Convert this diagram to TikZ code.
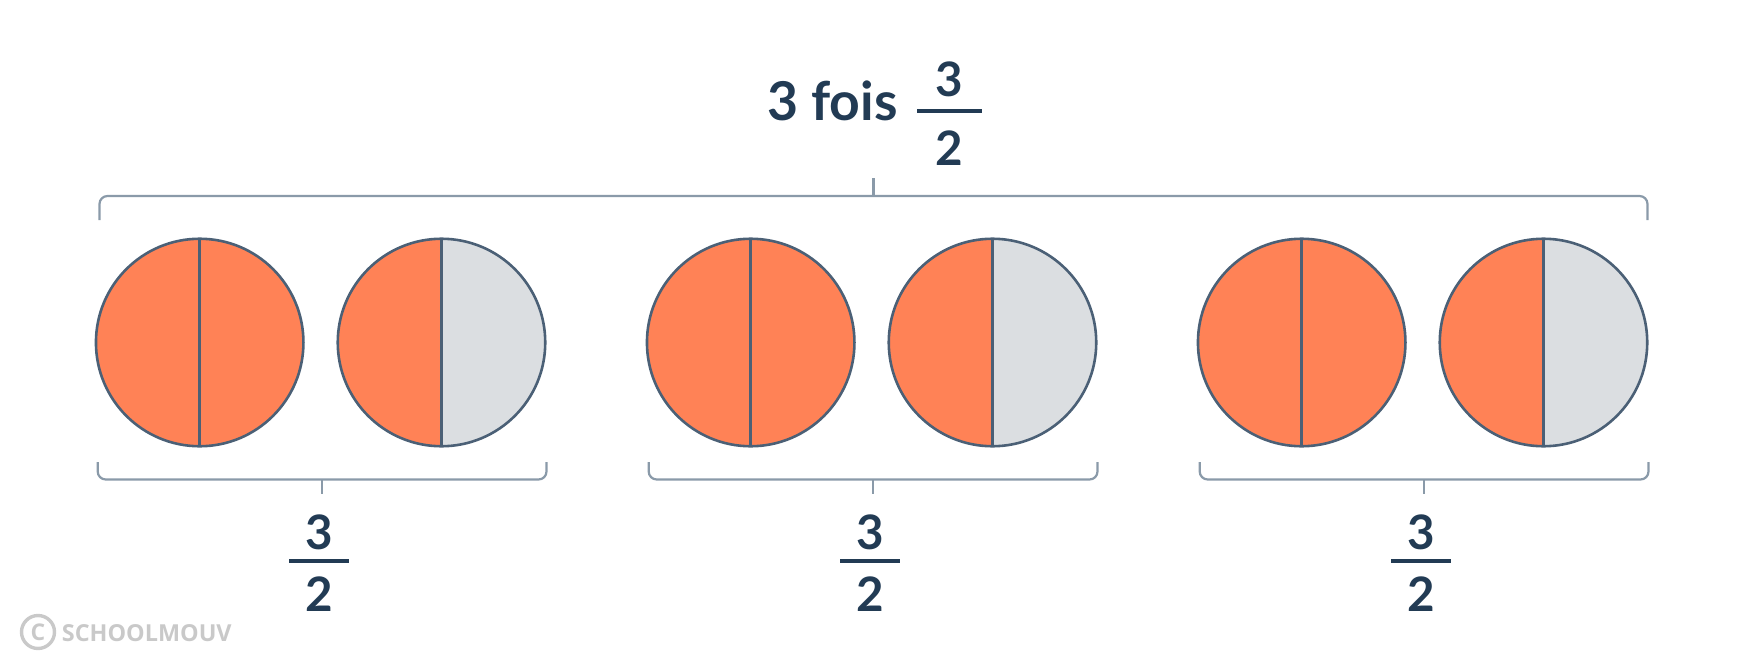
\documentclass[tikz,border=0pt]{standalone}
\usepackage{fontspec}
\setmainfont{Lato}
\newfontfamily\markfont{Open Sans}
\usepackage{tikz}
\usetikzlibrary{positioning,calc}

\definecolor{fillorange}{HTML}{FF8256}
\definecolor{fillgrey}{HTML}{DBDEE1}
\definecolor{rimblue}{HTML}{4B6076}
\definecolor{bracegrey}{HTML}{8A9AA9}
\definecolor{inkblue}{HTML}{223B54}
\definecolor{markgrey}{HTML}{C9C9C9}

\tikzset{
  disc/.style={circle, draw=rimblue, line width=2.6pt, fill=fillorange,
    minimum size=207.5pt, inner sep=0pt, outer sep=0pt},
  halfdisc/.style={disc, path picture={\fill[fillgrey] (path picture bounding box.north)
    rectangle (path picture bounding box.south east);}},
  split/.style={draw=rimblue, line width=2.6pt},
  bracket/.style={draw=bracegrey, line width=2.2pt, rounded corners=8pt},
  digit/.style={text=inkblue, font=\bfseries\fontsize{47.5}{50}\selectfont, inner sep=0pt, anchor=base},
  bar/.style={draw=inkblue, line width=4pt},
}

\begin{document}
\begin{tikzpicture}[x=1pt, y=-1pt]
    \useasboundingbox (0,0) rectangle (1749,672);

    \node[digit, font=\bfseries\fontsize{53.5}{56}\selectfont, anchor=base west] (times) at (767,120) {3 fois};
    \node[digit] (tnum) at (949,96.5) {3};
    \coordinate (tbarl) at (917,111);
    \coordinate (tbarr) at (981.5,111);
    \draw[bar] (tbarl) -- (tbarr);
    \node[digit] (tden) at (949,165) {2};

    \coordinate (topl) at (99.5,220);
    \coordinate (topr) at (1647.5,220);
    \coordinate (topmid) at (873.5,196);
    \draw[bracket] (topl) -- ++(0,-24) -| (topr);
    \draw[bracket] (topmid) -- ++(0,-18.5);

    \foreach \g [evaluate=\g as \dx using 551*\g] in {0,1,2} {
        \node[disc] (full\g) at (199.7+\dx,342.5) {};
        \draw[split] (full\g.north) -- (full\g.south);
        \node[halfdisc] (half\g) at (441.5+\dx,342.5) {};
        \draw[split] (half\g.north) -- (half\g.south);

        \draw[bracket] (97.7+\dx,462) -- (97.7+\dx,479.5) -- (546.5+\dx,479.5) -- (546.5+\dx,462);
        \coordinate (mid\g) at (322+\dx,479.5);
        \draw[bracket] (mid\g) -- ++(0,14.5);

        \node[digit] (num\g) at (319+\dx,549) {3};
        \draw[bar] (289+\dx,561) -- (349+\dx,561);
        \node[digit] (den\g) at (319+\dx,611.5) {2};
    }

    \node[circle, draw=markgrey, line width=3.4pt, minimum size=33pt, inner sep=0pt,
        text=markgrey, font=\markfont\bfseries\fontsize{23}{24}\selectfont] (copy) at (38,632) {C};
    \node[anchor=base west, inner sep=0pt, text=markgrey,
        font=\markfont\bfseries\fontsize{23.4}{25}\selectfont] (brand) at (61.7,641.7) {SCHOOLMOUV};
\end{tikzpicture}
\end{document}
